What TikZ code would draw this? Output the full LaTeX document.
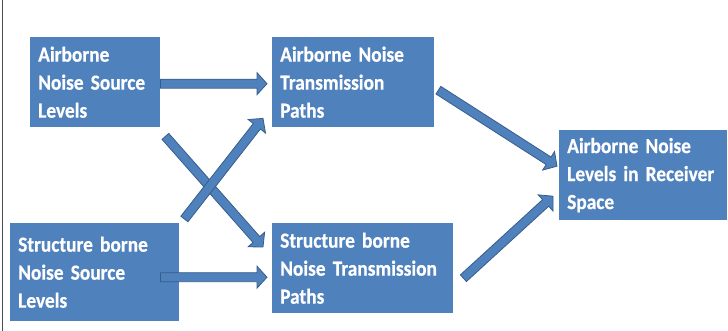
\documentclass[tikz,border=0pt]{standalone}
\usepackage{fontspec}
\setmainfont[FakeStretch=0.9, WordSpace=0.6, BoldFeatures={FakeBold=0.6}]{Carlito}
\usetikzlibrary{calc}

\definecolor{boxblue}{HTML}{4F81BD}
\definecolor{arrowedge}{HTML}{385D8A}

\tikzset{
  box/.style={anchor=north west, fill=boxblue, text=white, align=left,
    font=\bfseries\fontsize{21.5}{28}\selectfont, inner xsep=8pt, inner ysep=0pt},
}

% block arrow from #1 to #2
\newcommand{\fatarrow}[2]{%
  \coordinate (fs) at (#1);
  \coordinate (fe) at (#2);
  \coordinate (fh) at ($(fe)!10pt!(fs)$);
  \filldraw[fill=boxblue, draw=arrowedge, line width=0.8pt]
    ($(fs)!4.5pt!90:(fe)$) -- ($(fh)!4.5pt!-90:(fs)$) -- ($(fh)!11pt!-90:(fs)$) -- (fe)
    -- ($(fh)!11pt!90:(fs)$) -- ($(fh)!4.5pt!90:(fs)$) -- ($(fs)!4.5pt!-90:(fe)$) -- cycle;
}

\begin{document}
\begin{tikzpicture}[x=1pt, y=-1pt]
\useasboundingbox (0,0) rectangle (728,331);
\draw[black!70, line width=1.2pt] (2.5,0) -- (2.5,331);

\node[box, text width=114pt, minimum height=90pt] (asrc) at (30,37) {Airborne\\Noise Source\\Levels};
\node[box, text width=146pt, minimum height=90pt] (atrans) at (272,37) {Airborne Noise\\Transmission\\Paths};
\node[box, text width=153pt, minimum height=98pt] (ssrc) at (10,223) {Structure borne\\Noise Source\\Levels};
\node[box, text width=165pt, minimum height=90pt] (strans) at (272,223) {Structure borne\\Noise Transmission\\Paths};
\node[box, text width=152pt, minimum height=90pt] (recv) at (559,130) {Airborne Noise\\Levels in Receiver\\Space};

\fatarrow{$(asrc.east)+(0,1.5)$}{$(atrans.west)+(-5,1.5)$}
\fatarrow{$(ssrc.east)+(-19,5)$}{$(strans.west)+(-5,9)$}
\fatarrow{$(asrc.south east)+(5,9)$}{$(strans.north west)+(-9,24)$}
\fatarrow{$(ssrc.north east)+(5,-4)$}{$(atrans.south west)+(-9,-9)$}
\fatarrow{$(atrans.east)+(4,8)$}{$(recv.west)+(-2,-9)$}
\fatarrow{$(strans.east)+(10,10)$}{$(recv.west)+(-6,21)$}
\end{tikzpicture}
\end{document}
